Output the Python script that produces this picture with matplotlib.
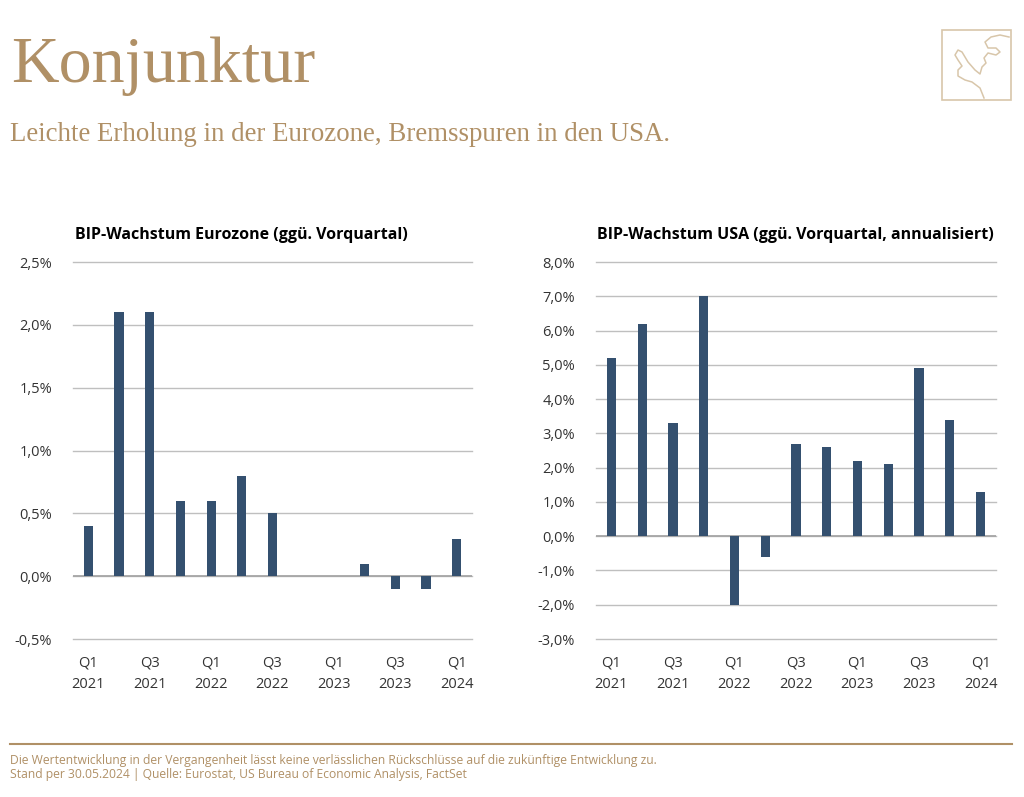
import matplotlib.pyplot as plt
import matplotlib.patches as mpatches
from matplotlib.ticker import FuncFormatter
import numpy as np

quarters = ['Q1\n2021', 'Q2\n2021', 'Q3\n2021', 'Q4\n2021', 'Q1\n2022', 'Q2\n2022', 'Q3\n2022',
            'Q4\n2022', 'Q1\n2023', 'Q2\n2023', 'Q3\n2023', 'Q4\n2023', 'Q1\n2024']
eurozone = [0.4, 2.1, 2.1, 0.6, 0.6, 0.8, 0.5, 0.0, 0.0, 0.1, -0.1, -0.1, 0.3]
usa = [5.2, 6.2, 3.3, 7.0, -2.0, -0.6, 2.7, 2.6, 2.2, 2.1, 4.9, 3.4, 1.3]

gold = '#B09066'
bar_col = '#34506F'
txt = '#333333'

plt.rcParams['font.family'] = ['Open Sans', 'DejaVu Sans']

fig = plt.figure(figsize=(10.24, 7.97), dpi=100)

fig.text(0.011, 0.897, 'Konjunktur', family='Liberation Serif', fontsize=47.5, color=gold, va='baseline')
fig.text(0.010, 0.823, 'Leichte Erholung in der Eurozone, Bremsspuren in den USA.',
         family='Liberation Serif', fontsize=19.4, color=gold, va='baseline')

# logo: box with a loose outline drawing
W, H = 1024, 797
fig.patches.append(mpatches.Rectangle((942/W, 1-100/H), 69/W, 70/H, transform=fig.transFigure,
                                      fill=False, edgecolor='#D8C6AA', lw=1.2))
px = [1009, 1000, 991, 985, 988, 996, 1000, 996, 988, 984, 986, 982, 980, 975, 968, 962,
      958, 955, 958, 962, 958, 958, 965, 972, 980, 984]
py = [37, 35, 37, 42, 48, 48, 52, 55, 53, 58, 63, 67, 74, 70, 62, 52,
      50, 55, 60, 66, 70, 76, 80, 82, 88, 98]
fig.add_artist(plt.Line2D([p / W for p in px], [1 - p / H for p in py], color='#D8C6AA', lw=1.1))


def pct(v, pos):
    return f'{v:.1f}%'.replace('.', ',')


def draw(ax, vals, lo, hi, step, title, tcx):
    x = np.arange(len(vals))
    ax.bar(x, vals, width=0.3, color=bar_col, zorder=3)
    ax.set_xlim(-0.5, len(vals) - 0.5)
    ax.set_ylim(lo, hi)
    ax.set_yticks(np.arange(lo, hi + step / 2, step))
    ax.yaxis.set_major_formatter(FuncFormatter(pct))
    ax.set_xticks(x[::2])
    ax.set_xticklabels(quarters[::2])
    ax.grid(axis='y', color='#BFBFBF', lw=1, zorder=0)
    for gl in ax.get_ygridlines():
        gl.set_clip_on(False)
    ax.axhline(0, color='#A6A6A6', lw=1.3, zorder=2)
    for s in ax.spines.values():
        s.set_visible(False)
    ax.tick_params(length=0, labelsize=10.5, colors=txt)
    ax.tick_params(axis='y', pad=15)
    ax.tick_params(axis='x', pad=12)
    for lab in ax.get_xticklabels():
        lab.set_linespacing(1.6)
    fig.text(tcx, 0.700, title, fontsize=11.5, fontweight='bold', color='black', ha='center', va='baseline')


ax1 = fig.add_axes([0.0713, 0.1982, 0.3896, 0.4730])
draw(ax1, eurozone, -0.5, 2.5, 0.5, 'BIP-Wachstum Eurozone (ggü. Vorquartal)', 241/1024)
ax2 = fig.add_axes([0.582, 0.1982, 0.3906, 0.4730])
draw(ax2, usa, -3, 8, 1, 'BIP-Wachstum USA (ggü. Vorquartal, annualisiert)', 795/1024)

fig.add_artist(plt.Line2D([10/1024, 1012/1024], [1-744/797, 1-744/797], color=gold, lw=1.5))
fig.text(0.010, 1-764/797, 'Die Wertentwicklung in der Vergangenheit lässt keine verlässlichen Rückschlüsse auf die zukünftige Entwicklung zu.',
         fontsize=8.75, color=gold, va='baseline')
fig.text(0.010, 1-778/797, 'Stand per 30.05.2024 | Quelle: Eurostat, US Bureau of Economic Analysis, FactSet',
         fontsize=8.75, color=gold, va='baseline')

fig.savefig('out.png', dpi=100)
